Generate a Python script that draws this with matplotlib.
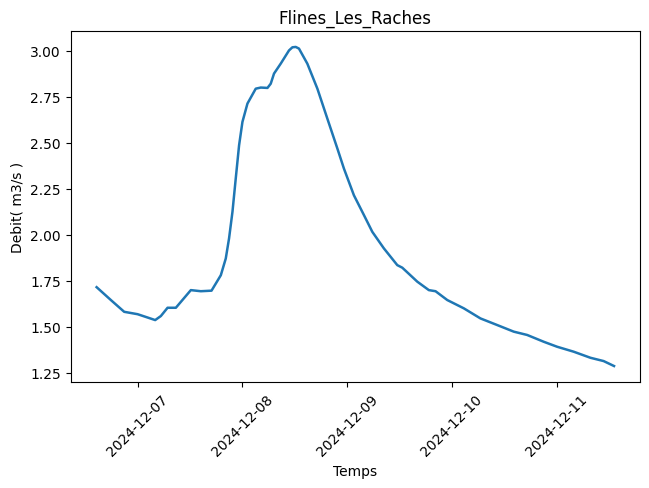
import matplotlib
matplotlib.use("Agg")
import matplotlib.pyplot as plt
import matplotlib.dates as mdates
import pandas as pd

times = [
    "2024-12-06 14:37", "2024-12-06 17:53", "2024-12-06 20:56", "2024-12-07 00:00",
    "2024-12-07 02:17", "2024-12-07 04:02", "2024-12-07 05:20", "2024-12-07 06:52",
    "2024-12-07 08:46", "2024-12-07 12:12", "2024-12-07 14:29", "2024-12-07 16:56",
    "2024-12-07 19:04", "2024-12-07 20:12", "2024-12-07 20:57", "2024-12-07 21:44",
    "2024-12-07 22:29", "2024-12-07 23:15", "2024-12-08 00:01", "2024-12-08 01:10",
    "2024-12-08 03:04", "2024-12-08 04:13", "2024-12-08 05:45", "2024-12-08 06:30",
    "2024-12-08 07:15", "2024-12-08 08:47", "2024-12-08 10:41", "2024-12-08 11:28",
    "2024-12-08 12:13", "2024-12-08 12:58", "2024-12-08 14:53", "2024-12-08 17:11",
    "2024-12-08 19:28", "2024-12-08 21:46", "2024-12-08 23:16", "2024-12-09 01:33",
    "2024-12-09 03:51", "2024-12-09 05:46", "2024-12-09 08:25", "2024-12-09 11:29",
    "2024-12-09 12:38", "2024-12-09 16:04", "2024-12-09 18:43", "2024-12-09 20:15",
    "2024-12-09 22:56", "2024-12-10 02:43", "2024-12-10 06:32", "2024-12-10 10:22",
    "2024-12-10 14:10", "2024-12-10 17:14", "2024-12-10 21:02", "2024-12-11 00:05",
    "2024-12-11 03:53", "2024-12-11 07:43", "2024-12-11 10:45", "2024-12-11 13:08",
]
debit = [
    1.715, 1.645, 1.581, 1.568,
    1.550, 1.536, 1.558, 1.603,
    1.603, 1.699, 1.693, 1.696,
    1.780, 1.871, 1.980, 2.125,
    2.306, 2.487, 2.614, 2.714,
    2.795, 2.801, 2.799, 2.822,
    2.877, 2.931, 3.003, 3.020,
    3.022, 3.013, 2.931, 2.795,
    2.632, 2.469, 2.360, 2.215,
    2.107, 2.016, 1.926, 1.835,
    1.821, 1.745, 1.699, 1.693,
    1.645, 1.600, 1.545, 1.509,
    1.473, 1.455, 1.418, 1.391,
    1.364, 1.331, 1.313, 1.286,
]

t = pd.to_datetime(times)

fig = plt.figure(figsize=(6.49, 4.89), dpi=100)
ax = fig.add_axes([0.109, 0.2168, 0.877, 0.7178])
ax.plot(t, debit, color="#1f77b4", linewidth=1.8)
ax.set_title("Flines_Les_Raches")
ax.set_xlabel("Temps")
ax.set_ylabel("Debit( m3/s )")
ax.xaxis.set_major_locator(mdates.DayLocator())
ax.xaxis.set_major_formatter(mdates.DateFormatter("%Y-%m-%d"))
plt.setp(ax.get_xticklabels(), rotation=45)
fig.savefig("out.png", dpi=100)
